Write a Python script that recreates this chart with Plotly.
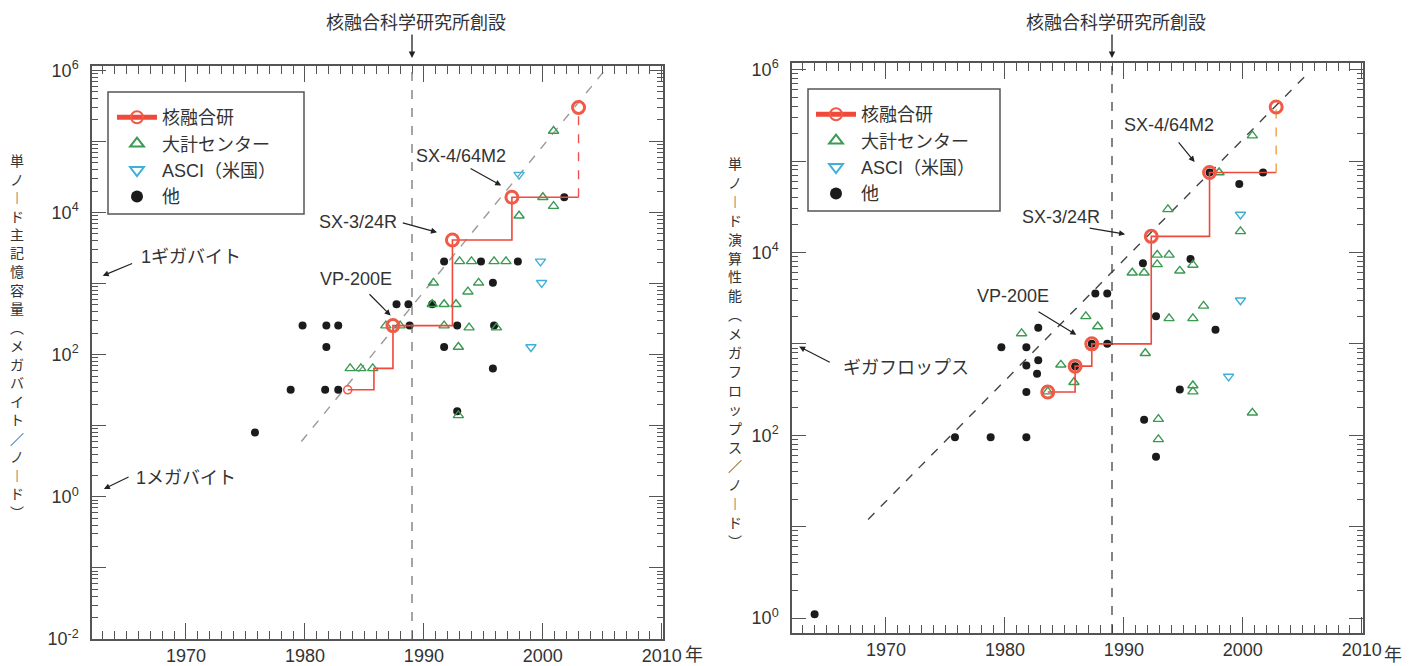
import plotly.graph_objects as go

# ---------------- data : left panel (main memory per node, MB) ----------------
L_nifs_step_year = [1983.6, 1985.8, 1987.4, 1992.4, 1997.4, 2003.0]
L_nifs_step_val = [32, 64, 256, 4096, 16384, 16384]
L_nifs_year = [1987.4, 1992.4, 1997.4, 2003.0]
L_nifs_val = [256, 4096, 16384, 300000]

L_center_year = [1983.8, 1984.7, 1985.7, 1986.8, 1988.0, 1990.8, 1990.7, 1991.7, 1992.7, 1993.7,
                 1991.7, 1993.8, 1996.1, 1992.9, 1993.0, 1994.0, 1995.9, 1996.9, 1994.6, 1992.9,
                 1998.0, 2000.0, 2000.9, 2000.9]
L_center_val = [64, 64, 64, 256, 256, 1024, 512, 512, 512, 768,
                256, 240, 240, 128, 2048, 2048, 2048, 2048, 1024, 14,
                9000, 16384, 12288, 140000]

L_asci_year = [1998.0, 1999.8, 1999.9, 1999.0]
L_asci_val = [34000, 2048, 1024, 128]

L_other_year = [1975.8, 1978.8, 1979.8, 1981.8, 1982.8, 1981.8, 1981.7, 1982.8, 1987.7, 1988.7,
                1990.7, 1988.8, 1991.7, 1994.8, 1997.9, 1995.8, 1991.7, 1992.8, 1995.9, 1995.8,
                1992.8, 2001.8]
L_other_val = [8, 32, 256, 256, 256, 128, 32, 32, 512, 512,
               512, 256, 2048, 2048, 2048, 1024, 128, 256, 256, 64,
               16, 16384]

L_trend_year = [1979.7, 2005.5]
L_trend_val = [6, 1.15e6]

# ---------------- data : right panel (performance per node, MFLOPS) ----------------
R_nifs_step_year = [1983.6, 1985.9, 1987.3, 1992.3, 1997.2, 2002.8]
R_nifs_step_val = [297, 570, 1000, 15000, 75000, 75000]
R_nifs_year = [1983.6, 1985.9, 1987.3, 1992.3, 1997.2, 2002.8]
R_nifs_val = [297, 570, 1000, 15000, 75000, 390000]

R_center_year = [2000.8, 1998.0, 1993.7, 1999.8, 1992.8, 1993.8, 1992.8, 1990.7, 1991.7, 1994.7,
                 1995.8, 1996.7, 1993.8, 1995.8, 1986.8, 1987.8, 1981.4, 1991.8, 1984.7, 1985.8,
                 1983.6, 1995.8, 1995.8, 1992.9, 1992.9, 2000.8]
R_center_val = [190000, 75000, 29600, 17000, 9400, 9400, 7400, 6000, 6000, 6300,
                7300, 2600, 1900, 1900, 2000, 1550, 1300, 790, 590, 380,
                300, 350, 300, 150, 90, 176]

R_asci_year = [1999.8, 1999.8, 1998.8]
R_asci_val = [26000, 3000, 440]

R_other_year = [1964.0, 1975.8, 1978.8, 1981.8, 1979.7, 1981.8, 1982.8, 1981.8, 1982.8, 1982.7,
                1981.8, 1985.9, 1987.3, 1988.6, 1987.6, 1988.6, 1991.6, 1992.7, 1991.7, 1992.7,
                1994.7, 1995.6, 1997.7, 1997.2, 1999.7, 2001.7]
R_other_val = [1.1, 95, 95, 95, 920, 920, 1500, 580, 660, 470,
               297, 570, 1000, 1000, 3550, 3550, 7600, 2000, 148, 58,
               316, 8500, 1430, 75000, 56000, 75000]

R_trend_year = [1968.5, 2005.6]
R_trend_val = [12, 9.5e5]

# ---------------- labels ----------------
x_tickvals = [1970, 1980, 1990, 2000, 2010]
x_ticktext = ["1970", "1980", "1990", "2000", "2010"]
year_suffix = "年"
legend_names = ["核融合研", "大計センター", "ASCI（米国）", "他"]
founding_year = 1989
founding_text = "核融合科学研究所創設"
L_ytitle = "単ノード主記憶容量（メガバイト／ノード）"
R_ytitle = "単ノード演算性能（メガフロップス／ノード）"

# ---------------- styles ----------------
W, H = 1418, 666
FONT = "Liberation Sans, Arial, Noto Sans CJK JP, sans-serif"
TXT = "#333333"
RED = "#f05a46"
REDLINE = "#f0483a"
GREEN = "#3b9a52"
CYAN = "#3fb0d6"
BLACK = "#1b1b1b"
AXIS = "#555555"

fig = go.Figure()


def add_panel(xa, ya, legend, step_y, step_v, nifs_y, nifs_v, cen_y, cen_v, asci_y, asci_v,
              oth_y, oth_v, tr_y, tr_v, trend_color, tail_color, first_small):
    common = dict(xaxis=xa, yaxis=ya, legend=legend)
    fig.add_trace(go.Scatter(x=tr_y, y=tr_v, mode="lines", showlegend=False, hoverinfo="skip",
                             line=dict(color=trend_color, width=1.4, dash="dash"), **common))
    fig.add_trace(go.Scatter(x=oth_y, y=oth_v, mode="markers", name=legend_names[3], legendrank=4,
                             marker=dict(symbol="circle", size=8, color=BLACK), **common))
    fig.add_trace(go.Scatter(x=cen_y, y=cen_v, mode="markers", name=legend_names[1], legendrank=2,
                             marker=dict(symbol="triangle-up-open", size=9, color=GREEN,
                                         line=dict(width=1.4, color=GREEN)), **common))
    fig.add_trace(go.Scatter(x=asci_y, y=asci_v, mode="markers", name=legend_names[2], legendrank=3,
                             marker=dict(symbol="triangle-down-open", size=9, color=CYAN,
                                         line=dict(width=1.4, color=CYAN)), **common))
    fig.add_trace(go.Scatter(x=step_y, y=step_v, mode="lines", line_shape="hv", showlegend=False,
                             line=dict(color=REDLINE, width=1.6), hoverinfo="skip", **common))
    fig.add_trace(go.Scatter(x=[step_y[-1], nifs_y[-1]], y=[step_v[-1], nifs_v[-1]], mode="lines",
                             showlegend=False, line=dict(color=tail_color, width=1.4, dash="dash"),
                             hoverinfo="skip", **common))
    if first_small:
        fig.add_trace(go.Scatter(x=step_y[:1], y=step_v[:1], mode="markers", showlegend=False,
                                 marker=dict(symbol="circle-open", size=8, color=RED,
                                             line=dict(width=1.6, color=RED)), **common))
    fig.add_trace(go.Scatter(x=nifs_y, y=nifs_v, mode="markers", showlegend=False,
                             marker=dict(symbol="circle-open", size=12, color=RED,
                                         line=dict(width=3, color=RED)), **common))
    fig.add_trace(go.Scatter(x=[None], y=[None], mode="lines+markers", name=legend_names[0],
                             legendrank=1, line=dict(color=REDLINE, width=1.4),
                             marker=dict(symbol="circle-open", size=12, color=RED,
                                         line=dict(width=3, color=RED)), **common))


add_panel("x", "y", "legend", L_nifs_step_year, L_nifs_step_val, L_nifs_year, L_nifs_val,
          L_center_year, L_center_val, L_asci_year, L_asci_val, L_other_year, L_other_val,
          L_trend_year, L_trend_val, "#9a9a9a", "#f05050", True)
add_panel("x2", "y2", "legend2", R_nifs_step_year, R_nifs_step_val, R_nifs_year, R_nifs_val,
          R_center_year, R_center_val, R_asci_year, R_asci_val, R_other_year, R_other_val,
          R_trend_year, R_trend_val, "#444444", "#f0a040", False)

xrange = [1962.1, 2010.1]
minor_x = dict(ticks="inside", ticklen=8, tickcolor=AXIS, dtick=1, tick0=1960, tickwidth=1)


def xaxis(domain, anchor):
    return dict(domain=domain, anchor=anchor, range=xrange, tickmode="array",
                tickvals=x_tickvals, ticktext=x_ticktext, ticks="inside", ticklen=16,
                tickwidth=1.2, tickcolor=AXIS, showline=True, linecolor=AXIS, linewidth=1.5,
                mirror="ticks", showgrid=False, zeroline=False, minor=minor_x, automargin=False,
                tickfont=dict(family=FONT, size=18, color=TXT), ticklabelstandoff=0)


def yaxis(domain, anchor, lo, hi, rng):
    decs = list(range(lo, hi + 1))
    vals = [10.0 ** d for d in decs]
    text = ["10<sup>%d</sup>" % d if d % 2 == 0 else "" for d in decs]
    mvals = [k * 10.0 ** d for d in decs for k in range(2, 10)]
    return dict(domain=domain, anchor=anchor, type="log", range=rng, tickmode="array",
                tickvals=vals, ticktext=text, ticks="inside", ticklen=14, tickwidth=1.2,
                tickcolor=AXIS, showline=True, linecolor=AXIS, linewidth=1.5, mirror="ticks",
                showgrid=False, zeroline=False, automargin=False,
                minor=dict(ticks="inside", ticklen=6, tickcolor=AXIS, tickvals=mvals, tickwidth=1),
                tickfont=dict(family=FONT, size=18, color=TXT), ticklabelstandoff=8)


dom_xL = [92 / W, 663 / W]
dom_xR = [792 / W, 1363 / W]
dom_yL = [1 - 639 / H, 1 - 66 / H]
dom_yR = [1 - 633 / H, 1 - 63 / H]

annotations = []
shapes = []
for xr, xd, yr, tick_px, vcol in (("x", dom_xL, "y", 664, "#6a6a6a"), ("x2", dom_xR, "y2", 1363, "#333333")):
    shapes.append(dict(type="line", xref=xr, yref=yr + " domain", x0=founding_year, x1=founding_year,
                       y0=0, y1=1, line=dict(color=vcol, width=1.2, dash="dash")))
    annotations.append(dict(xref=xr, yref="paper", x=founding_year, y=1 - 23 / H, text=founding_text,
                            showarrow=False, xshift=4, yanchor="middle",
                            font=dict(family=FONT, size=18, color=TXT)))
    annotations.append(dict(xref=xr, yref="paper", x=founding_year, y=1 - 58 / H, text="",
                            showarrow=True, ax=0, ay=-25, arrowhead=2, arrowsize=1, arrowwidth=1.3,
                            arrowcolor="#222222"))
    annotations.append(dict(xref="paper", yref="paper", x=(tick_px + 19) / W, y=1 - 655 / H,
                            text=year_suffix, showarrow=False, xanchor="left", yanchor="middle",
                            font=dict(family=FONT, size=18, color=TXT)))

# legend frames (drawn as rectangles, pixel boxes of the reference)
for bx0, by0, bx1, by1 in ((108, 92, 304, 214), (808, 89, 1000, 211)):
    shapes.append(dict(type="rect", xref="paper", yref="paper", x0=bx0 / W, x1=bx1 / W,
                       y0=1 - by1 / H, y1=1 - by0 / H, line=dict(color="#555555", width=1.5),
                       fillcolor="white", layer="above"))

# text labels (x in years, y in log10 units)
labels = [
    ("x", "y", "SX-4/64M2", 1993.1, 4.79), ("x", "y", "SX-3/24R", 1984.5, 3.87),
    ("x", "y", "VP-200E", 1984.3, 3.06), ("x", "y", "1ギガバイト", 1970.4, 3.38),
    ("x", "y", "1メガバイト", 1970.0, 0.26),
    ("x2", "y2", "SX-4/64M2", 1993.8, 5.40), ("x2", "y2", "SX-3/24R", 1984.7, 4.39),
    ("x2", "y2", "VP-200E", 1980.7, 3.52), ("x2", "y2", "ギガフロップス", 1971.7, 2.74),
]
for xr, yr, t, xv, yv in labels:
    annotations.append(dict(xref=xr, yref=yr, x=xv, y=yv, text=t, showarrow=False,
                            font=dict(family=FONT, size=18, color=TXT)))

# arrows: (head year, head log), (tail year, tail log)
arrows = [
    ("x", "y", 1996.5, 4.38, 1993.8, 4.63), ("x", "y", 1991.1, 3.72, 1988.1, 3.86),
    ("x", "y", 1987.2, 2.55, 1985.3, 2.87), ("x", "y", 1963.0, 3.11, 1965.6, 3.29),
    ("x", "y", 1963.1, 0.11, 1965.3, 0.29),
    ("x2", "y2", 1995.95, 4.99, 1994.5, 5.22), ("x2", "y2", 1990.1, 4.20, 1987.0, 4.27),
    ("x2", "y2", 1986.0, 3.10, 1982.7, 3.36), ("x2", "y2", 1962.7, 2.97, 1965.4, 2.79),
]
for xr, yr, hx, hy, tx, ty in arrows:
    annotations.append(dict(xref=xr, yref=yr, axref=xr, ayref=yr, x=hx, y=hy, ax=tx, ay=ty,
                            text="", showarrow=True, arrowhead=2, arrowsize=1, arrowwidth=1.2,
                            arrowcolor="#222222"))

# vertical (tategaki) axis titles, one character per annotation
VERT = {"ー": "︱", "（": "︵", "）": "︶"}


def add_vertical(title, x_px, y0_px, step_px):
    for i, ch in enumerate(title):
        annotations.append(dict(xref="paper", yref="paper", x=x_px / W, y=1 - (y0_px + i * step_px) / H,
                                text=VERT.get(ch, ch), showarrow=False, xanchor="center",
                                yanchor="middle",
                                font=dict(family="Noto Sans CJK JP", size=14, color=TXT)))


add_vertical(L_ytitle, 17, 160, 18.5)
add_vertical(R_ytitle, 735, 163, 18.9)

legend_style = dict(borderwidth=0, bgcolor="rgba(0,0,0,0)",
                    font=dict(family=FONT, size=18, color=TXT), xanchor="left", yanchor="top",
                    traceorder="normal", itemsizing="constant", itemwidth=40)

fig.update_layout(
    width=W, height=H, margin=dict(l=0, r=0, t=0, b=0, autoexpand=False),
    paper_bgcolor="white", plot_bgcolor="white",
    xaxis=xaxis(dom_xL, "y"), yaxis=yaxis(dom_yL, "x", -2, 6, [-2.0, 6.06]),
    xaxis2=xaxis(dom_xR, "y2"), yaxis2=yaxis(dom_yR, "x2", 0, 6, [-0.164, 6.073]),
    legend=dict(x=112 / W, y=1 - 99 / H, **legend_style),
    legend2=dict(x=811 / W, y=1 - 96 / H, **legend_style),
    annotations=annotations, shapes=shapes,
    font=dict(family=FONT, color=TXT),
)

fig.write_html("out.html", config={"displayModeBar": False},
               post_script="document.body.style.margin='0';")
